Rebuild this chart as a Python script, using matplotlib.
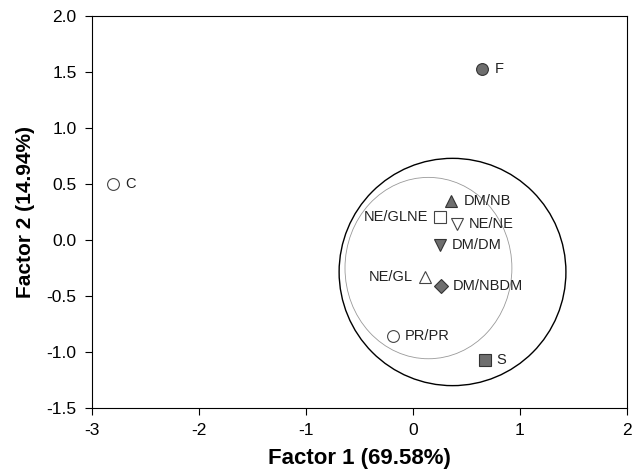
import matplotlib
matplotlib.use("Agg")
import matplotlib.pyplot as plt
from matplotlib.patches import Ellipse

plt.rcParams['font.family'] = ['Liberation Sans', 'DejaVu Sans']

# Punkty (Factor 1, Factor 2)
labels = ['C', 'F', 'DM/NB', 'NE/GLNE', 'NE/NE', 'DM/DM', 'NE/GL', 'DM/NBDM', 'PR/PR', 'S']
f1 = [-2.80, 0.65, 0.36, 0.25, 0.41, 0.25, 0.11, 0.26, -0.19, 0.67]
f2 = [0.50, 1.53, 0.35, 0.21, 0.14, -0.04, -0.33, -0.41, -0.86, -1.07]
markers = ['o', 'o', '^', 's', 'v', 'v', '^', 'D', 'o', 's']
filled = [False, True, True, False, False, True, False, True, False, True]
label_side = ['r', 'r', 'r', 'l', 'r', 'r', 'l', 'r', 'r', 'r']

# Elipsy: (x, y, szerokosc, wysokosc)
outer_ell = (0.37, -0.285, 2.12, 2.03)
inner_ell = (0.145, -0.25, 1.56, 1.62)

fig = plt.figure(figsize=(6.41, 4.75), dpi=100)
ax = fig.add_axes([0.1435, 0.141, 0.8345, 0.825])

ax.add_patch(Ellipse(outer_ell[:2], outer_ell[2], outer_ell[3], fill=False, edgecolor='black', linewidth=1.0))
ax.add_patch(Ellipse(inner_ell[:2], inner_ell[2], inner_ell[3], fill=False, edgecolor='#999999', linewidth=0.6))

for x, y, m, f, lab, side in zip(f1, f2, markers, filled, labels, label_side):
    ms = 7.5 if m == 'D' else 8.5
    ax.plot(x, y, marker=m, markersize=ms, linestyle='none',
            markerfacecolor='#6e6e6e' if f else 'white',
            markeredgecolor='#333333' if f else '#444444', markeredgewidth=0.8)
    if side == 'r':
        ax.annotate(lab, (x, y), xytext=(8.5, 0), textcoords='offset points',
                    ha='left', va='center', fontsize=10.5, color='#222222')
    else:
        ax.annotate(lab, (x, y), xytext=(-8.5, 0), textcoords='offset points',
                    ha='right', va='center', fontsize=10.5, color='#222222')

ax.set_xlim(-3, 2)
ax.set_ylim(-1.5, 2.0)
ax.set_xticks([-3, -2, -1, 0, 1, 2])
ax.set_xticklabels(['-3', '-2', '-1', '0', '1', '2'])
ax.set_yticks([-1.5, -1.0, -0.5, 0.0, 0.5, 1.0, 1.5, 2.0])
ax.set_yticklabels(['-1.5', '-1.0', '-0.5', '0.0', '0.5', '1.0', '1.5', '2.0'])
ax.tick_params(direction='out', length=5, labelsize=12.5, pad=6)

ax.set_xlabel('Factor 1 (69.58%)', fontsize=16, fontweight='bold', labelpad=7)
ax.set_ylabel('Factor 2 (14.94%)', fontsize=15, fontweight='bold', labelpad=8)

plt.savefig('out.png', dpi=100)
